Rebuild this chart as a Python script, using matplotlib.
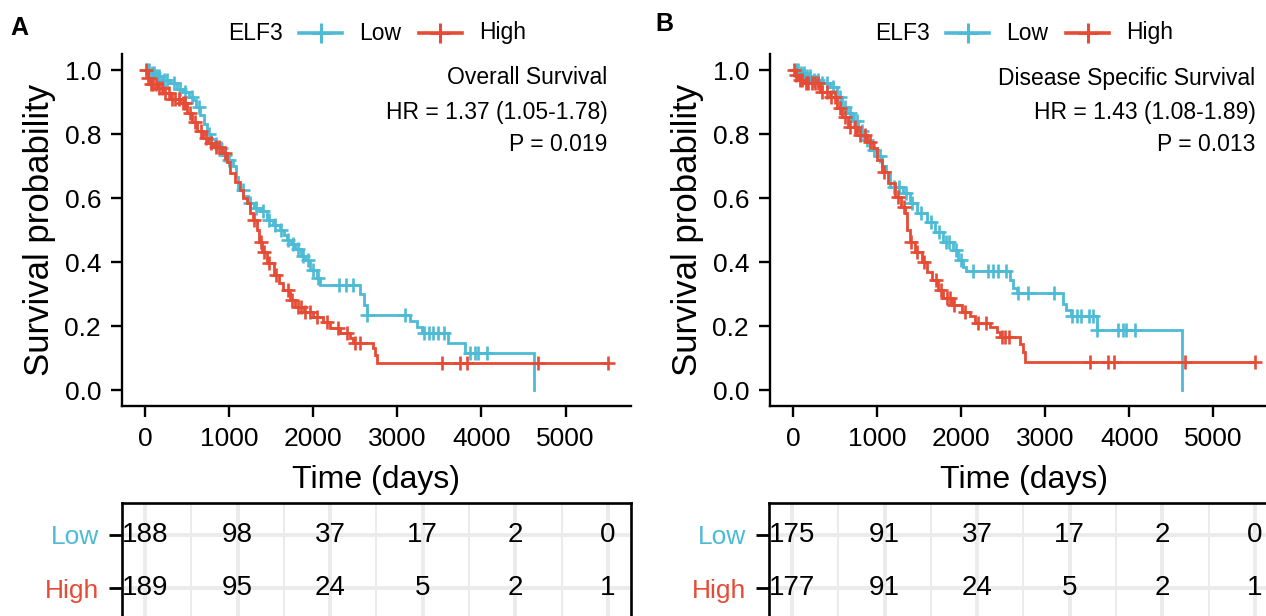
import numpy as np
import matplotlib
matplotlib.use("Agg")
import matplotlib.pyplot as plt
from matplotlib.lines import Line2D

plt.rcParams['font.family'] = ['Liberation Sans', 'DejaVu Sans']

BLUE = '#4DBBD5'
RED = '#E64B35'

gene = 'ELF3'
groups = ['Low', 'High']
risk_times = [0, 1000, 2000, 3000, 4000, 5000]

# ---------------- Panel A : Overall Survival ----------------
a_title = 'Overall Survival'
a_hr = 'HR = 1.37 (1.05-1.78)'
a_p = 'P = 0.019'
a_low_t = [0, 60, 120, 200, 300, 380, 450, 520, 570, 610, 650, 700, 735, 780, 830, 880, 930, 975,
           1050, 1080, 1110, 1170, 1230, 1300, 1370, 1450, 1520, 1600, 1650, 1690, 1740, 1785, 1850,
           1905, 1965, 2045, 2085, 2560, 2600, 2640, 3150, 3230, 3290, 3600, 3810, 4620]
a_low_s = [1.0, 0.99, 0.98, 0.968, 0.958, 0.94, 0.93, 0.915, 0.905, 0.885, 0.86, 0.83, 0.80, 0.785,
           0.77, 0.755, 0.735, 0.72, 0.70, 0.665, 0.625, 0.605, 0.584, 0.57, 0.56, 0.53, 0.515, 0.50,
           0.485, 0.47, 0.455, 0.44, 0.42, 0.405, 0.375, 0.35, 0.328, 0.30, 0.265, 0.235, 0.215,
           0.197, 0.178, 0.146, 0.115, 0.0]
a_low_cens = [20, 50, 80, 110, 140, 170, 230, 260, 340, 420, 470, 560, 640, 760, 850, 900, 950,
              1000, 1160, 1250, 1320, 1400, 1480, 1550, 1620, 1700, 1760, 1820, 1880, 1940, 2000,
              2060, 2310, 2390, 2470, 2640, 3095, 3320, 3380, 3430, 3480, 3560, 3870, 3920, 3960, 4070]
a_high_t = [0, 30, 60, 150, 215, 300, 417, 500, 560, 620, 690, 750, 810, 915, 975, 1010, 1070, 1130,
            1170, 1210, 1250, 1290, 1330, 1360, 1390, 1450, 1530, 1590, 1645, 1725, 1785, 1885, 2000,
            2120, 2200, 2320, 2440, 2470, 2710, 2735, 2760]
a_high_s = [1.0, 0.975, 0.955, 0.945, 0.927, 0.91, 0.896, 0.865, 0.838, 0.81, 0.786, 0.772, 0.76,
            0.74, 0.713, 0.678, 0.65, 0.625, 0.60, 0.584, 0.553, 0.53, 0.50, 0.463, 0.431, 0.396,
            0.36, 0.334, 0.313, 0.281, 0.26, 0.243, 0.228, 0.213, 0.193, 0.178, 0.162, 0.147, 0.13,
            0.11, 0.083]
a_high_cens = [15, 40, 70, 100, 130, 170, 200, 240, 280, 320, 360, 400, 450, 480, 540, 600, 660,
               720, 780, 850, 880, 950, 1300, 1380, 1420, 1480, 1560, 1700, 1750, 1820, 1850, 1900,
               1960, 2050, 2160, 2300, 2400, 2500, 2560, 3530, 3750, 3830, 4670, 5500]
a_risk_low = [188, 98, 37, 17, 2, 0]
a_risk_high = [189, 95, 24, 5, 2, 1]

# ---------------- Panel B : Disease Specific Survival ----------------
b_title = 'Disease Specific Survival'
b_hr = 'HR = 1.43 (1.08-1.89)'
b_p = 'P = 0.013'
b_low_t = [0, 80, 160, 240, 320, 440, 520, 580, 640, 700, 770, 850, 915, 1000, 1060, 1110, 1150,
           1310, 1390, 1470, 1590, 1690, 1785, 1900, 1960, 2020, 2060, 2580, 2620, 2660, 3210, 3250,
           3300, 3620, 4630]
b_low_s = [1.0, 0.99, 0.98, 0.97, 0.96, 0.948, 0.917, 0.885, 0.865, 0.84, 0.81, 0.78, 0.75, 0.73,
           0.70, 0.68, 0.635, 0.615, 0.584, 0.553, 0.526, 0.495, 0.464, 0.437, 0.406, 0.385, 0.372,
           0.343, 0.32, 0.303, 0.27, 0.25, 0.23, 0.187, 0.0]
b_low_cens = [30, 60, 100, 130, 170, 200, 250, 300, 350, 400, 480, 560, 620, 680, 720, 760, 820,
              880, 960, 1040, 1200, 1260, 1340, 1420, 1520, 1640, 1740, 1820, 1860, 1940, 2000,
              2140, 2320, 2380, 2440, 2530, 2680, 2800, 3100, 3320, 3380, 3420, 3520, 3570, 3620,
              3870, 3920, 3960, 4070]
b_high_t = [0, 30, 60, 120, 320, 440, 520, 580, 650, 760, 880, 955, 1000, 1060, 1130, 1210, 1290,
            1330, 1360, 1390, 1450, 1530, 1590, 1650, 1720, 1780, 1890, 2010, 2100, 2160, 2340,
            2420, 2460, 2700, 2730, 2760]
b_high_s = [1.0, 0.985, 0.97, 0.958, 0.932, 0.917, 0.88, 0.854, 0.823, 0.797, 0.776, 0.755, 0.719,
            0.682, 0.646, 0.604, 0.573, 0.552, 0.50, 0.464, 0.432, 0.40, 0.37, 0.344, 0.313, 0.287,
            0.266, 0.245, 0.23, 0.21, 0.198, 0.182, 0.165, 0.145, 0.12, 0.088]
b_high_cens = [10, 40, 80, 110, 150, 180, 220, 260, 300, 350, 400, 450, 500, 560, 620, 680, 740,
               800, 860, 920, 1080, 1250, 1320, 1400, 1480, 1560, 1700, 1760, 1830, 1870, 1920,
               2050, 2200, 2300, 2480, 2520, 2570, 3530, 3740, 3820, 4660, 5490]
b_risk_low = [175, 91, 37, 17, 2, 0]
b_risk_high = [177, 91, 24, 5, 2, 1]

W, H = 1266, 616
fig = plt.figure(figsize=(W / 100, H / 100), dpi=100)


def fx(px):
    return px / W


def fy(py):
    return 1 - py / H


def km(ax, t, s, cens, color):
    t = list(t)
    s = list(s)
    if max(cens) > t[-1] and s[-1] > 0:
        t.append(max(cens))
        s.append(s[-1])
    ax.step(t, s, where='post', color=color, lw=2.0, solid_joinstyle='miter')
    t_arr = np.array(t)
    s_arr = np.array(s)
    idx = np.searchsorted(t_arr, np.array(cens), side='right') - 1
    ax.plot(cens, s_arr[idx], ls='none', marker='+', ms=10, mew=1.9, color=color)


def panel(x0_px, label, lab_xy, legend_px, title, hr, p,
          low_t, low_s, low_c, high_t, high_s, high_c, r_low, r_high, tbl_x0):
    ppk = 84.1  # pixels per 1000 days (main)
    ax_left = x0_px - 275 * ppk / 1000
    ax_w = 6050 * ppk / 1000
    ax = fig.add_axes([fx(ax_left), fy(406), ax_w / W, (406 - 54) / H])
    km(ax, low_t, low_s, low_c, BLUE)
    km(ax, high_t, high_s, high_c, RED)
    ax.set_xlim(-275, 5775)
    ax.set_ylim(-0.05, 1.05)
    ax.set_xticks(risk_times)
    ax.set_yticks([0, 0.2, 0.4, 0.6, 0.8, 1.0])
    ax.set_yticklabels(['0.0', '0.2', '0.4', '0.6', '0.8', '1.0'])
    for sp in ['top', 'right']:
        ax.spines[sp].set_visible(False)
    for sp in ['left', 'bottom']:
        ax.spines[sp].set_linewidth(1.7)
    ax.tick_params(axis='both', length=8, width=1.7, labelsize=19, pad=7)
    ax.set_xlabel('Time (days)', fontsize=23, labelpad=10)
    ax.set_ylabel('Survival probability', fontsize=25, labelpad=6)
    ax.text(5500, 0.975, title, ha='right', va='center', fontsize=16.5)
    ax.text(5500, 0.868, hr, ha='right', va='center', fontsize=16.5)
    ax.text(5500, 0.768, p, ha='right', va='center', fontsize=16.5)

    # panel letter
    fig.text(fx(lab_xy[0]), fy(lab_xy[1]), label, fontsize=18, fontweight='bold',
             ha='left', va='center')

    # legend
    lx, ly = legend_px
    fig.text(fx(lx), fy(ly), gene, fontsize=16.5, ha='left', va='center')
    for i, (g, c) in enumerate(zip(groups, [BLUE, RED])):
        x1 = lx + 71 + i * 120
        x2 = x1 + 43
        fig.add_artist(Line2D([fx(x1), fx(x2)], [fy(ly), fy(ly)], color=c, lw=2.6,
                              transform=fig.transFigure))
        fig.add_artist(Line2D([fx((x1 + x2) / 2)], [fy(ly)], color=c, marker='+', ms=15,
                              mew=2.2, ls='none', transform=fig.transFigure))
        fig.text(fx(x2 + 17), fy(ly), g, fontsize=16.5, ha='left', va='center')

    # risk table
    ppt = 92.6
    t_left = tbl_x0 - 250 * ppt / 1000
    t_w = 5500 * ppt / 1000
    axt = fig.add_axes([fx(t_left), fy(620), t_w / W, (620 - 503) / H])
    axt.set_xlim(-250, 5250)
    axt.set_ylim(2.6, 0.4)
    axt.set_xticks(risk_times)
    axt.set_xticks([500, 1500, 2500, 3500, 4500], minor=True)
    axt.set_yticks([1, 2])
    axt.set_yticklabels(groups)
    for tl, c in zip(axt.get_yticklabels(), [BLUE, RED]):
        tl.set_color(c)
    axt.tick_params(axis='y', length=9.5, width=2.0, labelsize=19, pad=7)
    axt.tick_params(axis='x', which='both', length=0, labelbottom=False)
    axt.grid(True, which='major', color='#EBEBEB', lw=2.8)
    axt.grid(True, which='minor', axis='x', color='#EBEBEB', lw=1.4)
    axt.set_axisbelow(True)
    for sp in axt.spines.values():
        sp.set_linewidth(1.9)
        sp.set_color('black')
    for row, vals in enumerate([r_low, r_high], start=1):
        for tt, v in zip(risk_times, vals):
            axt.text(tt, row, str(v), ha='center', va='center', fontsize=20)


panel(145, 'A', (10, 28), (228, 33), a_title, a_hr, a_p,
      a_low_t, a_low_s, a_low_cens, a_high_t, a_high_s, a_high_cens,
      a_risk_low, a_risk_high, 145)
panel(793, 'B', (655, 24), (875, 33), b_title, b_hr, b_p,
      b_low_t, b_low_s, b_low_cens, b_high_t, b_high_s, b_high_cens,
      b_risk_low, b_risk_high, 792)

fig.savefig('out.png', dpi=100)
